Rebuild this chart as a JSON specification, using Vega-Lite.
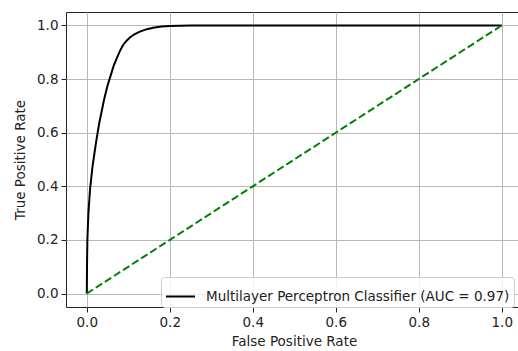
{
  "$schema": "https://vega.github.io/schema/vega-lite/v6.json",
  "width": 452,
  "height": 295,
  "autosize": {"type": "none"},
  "padding": {"left": 66, "top": 12, "right": 0, "bottom": 44},
  "background": "white",
  "config": {
    "view": {"stroke": "#222222", "strokeWidth": 1},
    "font": "DejaVu Sans",
    "axis": {
      "labelFont": "DejaVu Sans",
      "labelFontSize": 13.5,
      "labelColor": "#222222",
      "titleFont": "DejaVu Sans",
      "titleFontSize": 13.5,
      "titleFontWeight": "normal",
      "titleColor": "#222222",
      "tickColor": "#222222",
      "tickSize": 5,
      "tickWidth": 1,
      "gridColor": "#b8b8b8",
      "gridWidth": 1,
      "domain": false,
      "labelPadding": 3
    },
    "legend": {
      "orient": "none",
      "legendX": 95,
      "legendY": 265,
      "symbolType": "stroke",
      "symbolSize": 841,
      "symbolStrokeWidth": 2,
      "labelFont": "DejaVu Sans",
      "labelFontSize": 13.5,
      "labelColor": "#222222",
      "labelOffset": 10,
      "labelLimit": 500,
      "padding": 4,
      "strokeColor": "#cccccc",
      "fillColor": "rgba(255,255,255,0.8)",
      "cornerRadius": 3
    }
  },
  "datasets": {
    "roc": [
      {"fpr": 0, "tpr": 0},
      {"fpr": 0.0002, "tpr": 0.01},
      {"fpr": 0.0006, "tpr": 0.1},
      {"fpr": 0.0015, "tpr": 0.2},
      {"fpr": 0.004, "tpr": 0.3},
      {"fpr": 0.008, "tpr": 0.39},
      {"fpr": 0.014, "tpr": 0.475},
      {"fpr": 0.022, "tpr": 0.56},
      {"fpr": 0.03, "tpr": 0.635},
      {"fpr": 0.036, "tpr": 0.68},
      {"fpr": 0.042, "tpr": 0.725},
      {"fpr": 0.05, "tpr": 0.775},
      {"fpr": 0.057, "tpr": 0.81},
      {"fpr": 0.065, "tpr": 0.85},
      {"fpr": 0.073, "tpr": 0.88},
      {"fpr": 0.08, "tpr": 0.905},
      {"fpr": 0.088, "tpr": 0.928},
      {"fpr": 0.096, "tpr": 0.943},
      {"fpr": 0.104, "tpr": 0.955},
      {"fpr": 0.115, "tpr": 0.967},
      {"fpr": 0.128, "tpr": 0.977},
      {"fpr": 0.145, "tpr": 0.986},
      {"fpr": 0.16, "tpr": 0.991},
      {"fpr": 0.18, "tpr": 0.996},
      {"fpr": 0.2, "tpr": 0.998},
      {"fpr": 0.25, "tpr": 0.9995},
      {"fpr": 0.3, "tpr": 1.0},
      {"fpr": 1.0, "tpr": 1.0}
    ],
    "diag": [
      {"fpr": 0, "tpr": 0},
      {"fpr": 1, "tpr": 1}
    ]
  },
  "layer": [
    {
      "data": {"name": "roc"},
      "mark": {"type": "line", "strokeWidth": 2, "interpolate": "linear"},
      "encoding": {
        "x": {
          "field": "fpr",
          "type": "quantitative",
          "scale": {"domain": [-0.05, 1.0392], "nice": false, "zero": false},
          "axis": {"title": "False Positive Rate", "values": [0, 0.2, 0.4, 0.6, 0.8, 1.0], "format": ".1f", "titleX": 228, "titlePadding": 6}
        },
        "y": {
          "field": "tpr",
          "type": "quantitative",
          "scale": {"domain": [-0.05, 1.05], "nice": false, "zero": false},
          "axis": {"title": "True Positive Rate", "values": [0, 0.2, 0.4, 0.6, 0.8, 1.0], "format": ".1f", "titlePadding": 9}
        },
        "color": {
          "datum": "Multilayer Perceptron Classifier (AUC = 0.97)",
          "type": "nominal",
          "scale": {"range": ["#000000"]},
          "legend": {"title": null}
        }
      }
    },
    {
      "data": {"name": "diag"},
      "mark": {"type": "line", "color": "green", "strokeWidth": 2, "strokeDash": [7.5, 3.3]},
      "encoding": {
        "x": {"field": "fpr", "type": "quantitative"},
        "y": {"field": "tpr", "type": "quantitative"}
      }
    }
  ]
}
